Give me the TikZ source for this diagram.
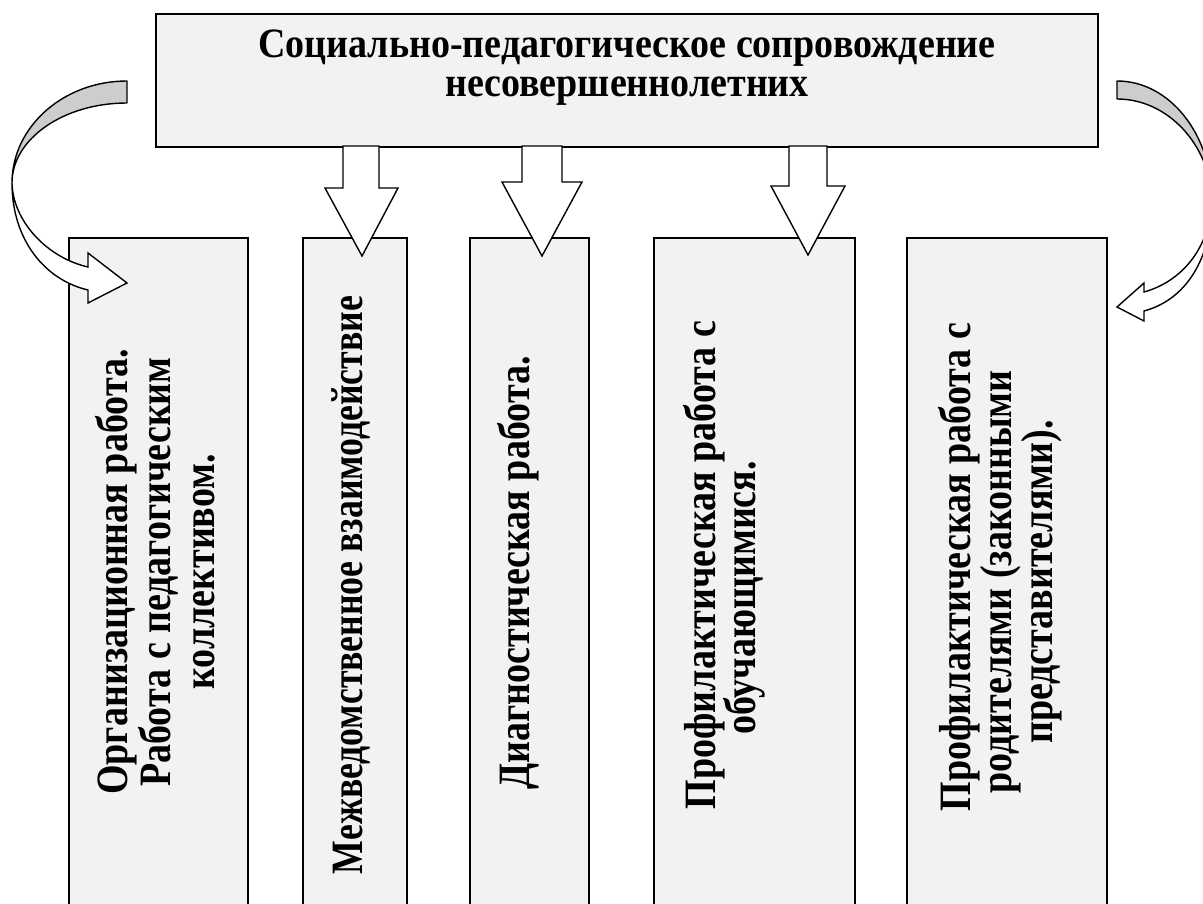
\documentclass[tikz,border=0pt]{standalone}
\usepackage{fontspec}
\setmainfont{Liberation Serif}
\definecolor{boxfill}{RGB}{242,242,242}
\definecolor{backgray}{RGB}{205,205,205}
\newcommand{\tallA}[1]{\scalebox{1}[1.1]{#1}}
\newcommand{\tallB}[1]{\scalebox{1}[1.18]{#1}}
\begin{document}
\begin{tikzpicture}[x=1pt,y=-1pt,
  box/.style={draw=black, line width=1.6pt, fill=boxfill, inner sep=0pt, anchor=north west},
  blockarrow/.style={draw=black, line width=1.4pt, fill=white, line join=miter},
  backside/.style={draw=black, line width=1.4pt, fill=backgray, line join=round},
  frontside/.style={draw=black, line width=1.4pt, fill=white, line join=miter},
  ttl/.style={font=\fontsize{38}{40}\selectfont\bfseries, inner sep=0pt, anchor=base},
  vlbl/.style={font=\fontsize{38}{40}\selectfont\bfseries, inner sep=0pt, anchor=base, rotate=90}]
\useasboundingbox (0,0) rectangle (1203,904);
\clip (0,0) rectangle (1203,904);

% bottom boxes
\node[box, minimum width=179pt, minimum height=700pt] (b1) at (68,237) {};
\node[box, minimum width=104pt, minimum height=700pt] (b2) at (302,237) {};
\node[box, minimum width=119pt, minimum height=700pt] (b3) at (469,237) {};
\node[box, minimum width=201pt, minimum height=700pt] (b4) at (653,237) {};
\node[box, minimum width=200pt, minimum height=700pt] (b5) at (906,237) {};

% title box
\node[box, minimum width=942pt, minimum height=133pt] (title) at (155,13) {};
\node[ttl] (t1) at (627,58) {\tallA{Социально-педагогическое сопровождение}};
\node[ttl] (t2) at (627,97) {\tallA{несовершеннолетних}};

% block arrows
\draw[blockarrow] (343,146) -- (343,188) -- (325,188) -- (362,256) -- (398,188) -- (379,188) -- (379,146) -- cycle;
\draw[blockarrow] (522,146) -- (522,182) -- (502,182) -- (542,256) -- (582,182) -- (562,182) -- (562,146) -- cycle;
\draw[blockarrow] (789,146) -- (789,186) -- (771,186) -- (808,255) -- (845,186) -- (827,186) -- (827,146) -- cycle;

% left curved arrow
\draw[backside] (127,81) .. controls (63.5,81) and (12,126.7) .. (12,183)
  .. controls (12,139) and (63.5,103) .. (127,103) -- cycle;
\draw[frontside] (12,183) .. controls (12,240) and (45,280) .. (88,290)
  -- (88,303) -- (127,283) -- (88,253) -- (88,267)
  .. controls (48,258) and (13,222) .. (12,183) -- cycle;

% right curved arrow
\draw[backside] (1117,81) .. controls (1170,81) and (1212,135) .. (1212,200)
  .. controls (1210,145) and (1168,99) .. (1117,99) -- cycle;
\draw[frontside] (1212,200) .. controls (1212,260) and (1185,300) .. (1144,311)
  -- (1144,321) -- (1117,307) -- (1144,283) -- (1144,292)
  .. controls (1180,282) and (1210,250) .. (1212,200) -- cycle;

% vertical labels
\node[vlbl] (l11) at (127,572) {\tallB{Организационная работа.}};
\node[vlbl] (l12) at (170,572) {\tallB{Работа с педагогическим}};
\node[vlbl] (l13) at (214,572) {\tallB{коллективом.}};
\node[vlbl] (l21) at (362,585) {\scalebox{0.94}[1.18]{Межведомственное взаимодействие}};
\node[vlbl] (l31) at (529,573) {\tallB{Диагностическая работа.}};
\node[vlbl] (l41) at (715,565) {\tallB{Профилактическая работа с}};
\node[vlbl] (l42) at (755,598) {\tallB{обучающимися.}};
\node[vlbl] (l51) at (970,567) {\tallB{Профилактическая работа с}};
\node[vlbl] (l52) at (1011,582) {\tallB{родителями (законными}};
\node[vlbl] (l53) at (1052,582) {\tallB{представителями).}};
\end{tikzpicture}
\end{document}
